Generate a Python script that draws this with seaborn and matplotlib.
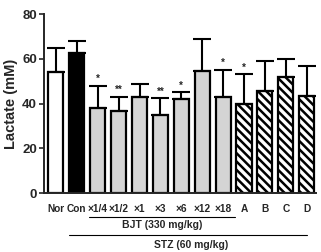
import seaborn as sns
import matplotlib.pyplot as plt
import matplotlib.transforms as mtransforms

labels = ["Nor", "Con", "×1/4", "×1/2", "×1", "×3", "×6", "×12", "×18", "A", "B", "C", "D"]
means  = [54, 62.5, 38, 36.6, 43, 35, 42, 54.5, 42.8, 39.7, 45.5, 52, 43.5]
errs   = [10.7, 5.5, 10, 6.4, 5.7, 7.4, 3, 14.3, 12.2, 13.3, 13.5, 8, 13.5]
stars  = ["", "", "*", "**", "", "**", "*", "", "*", "*", "", "", ""]
colors = ["white", "black"] + ["#d4d4d4"] * 7 + ["white"] * 4
hatched = ["A", "B", "C", "D"]

sns.set_style("ticks")
plt.rcParams["font.family"] = ["Liberation Sans", "DejaVu Sans"]
plt.rcParams["font.weight"] = "bold"
plt.rcParams["hatch.linewidth"] = 1.8

fig = plt.figure(figsize=(3.21, 2.52), dpi=100)
ax = fig.add_axes([0.137, 0.234, 0.847, 0.710])

sns.barplot(x=labels, y=means, hue=labels, palette=colors, legend=False,
            width=0.72, edgecolor="black", linewidth=1.6, ax=ax)

bars = sorted(ax.patches, key=lambda p: p.get_x())
for lab, bar in zip(labels, bars):
    if lab in hatched:
        bar.set_hatch("\\\\\\\\")

x = list(range(len(labels)))
ax.errorbar(x, means, yerr=[[0] * len(errs), errs], fmt="none",
            ecolor="black", elinewidth=1.5, capsize=6.5, capthick=1.5, zorder=1)
for i, s in enumerate(stars):
    if s:
        ax.text(i, means[i] + errs[i] + 0.8, s, ha="center", va="bottom",
                fontsize=7, fontweight="bold")

ax.set_ylim(0, 80)
ax.set_xlim(-0.574, 12.44)
ax.set_yticks([0, 20, 40, 60, 80])
ax.set_ylabel("Lactate (mM)", fontsize=10.5, fontweight="bold", labelpad=3)
ax.tick_params(axis="y", labelsize=9.5, length=3.5, width=1.2, pad=1.5)
ax.tick_params(axis="x", labelsize=7.3, length=0, pad=8)
for lbl in ax.get_xticklabels() + ax.get_yticklabels():
    lbl.set_fontweight("bold")
sns.despine(ax=ax)
for side in ["left", "bottom"]:
    ax.spines[side].set_linewidth(1.4)

trans = mtransforms.blended_transform_factory(ax.transData, ax.transAxes)
ax.plot([1.58, 8.56], [-0.134, -0.134], color="black", lw=0.8,
        transform=trans, clip_on=False)
ax.text(5.07, -0.179, "BJT (330 mg/kg)", transform=trans, ha="center",
        va="center", fontsize=7.5, fontweight="bold")
ax.plot([0.62, 12.0], [-0.235, -0.235], color="black", lw=0.8,
        transform=trans, clip_on=False)
ax.text(6.46, -0.29, "STZ (60 mg/kg)", transform=trans, ha="center",
        va="center", fontsize=7.5, fontweight="bold")

fig.savefig("out.png", dpi=100)
